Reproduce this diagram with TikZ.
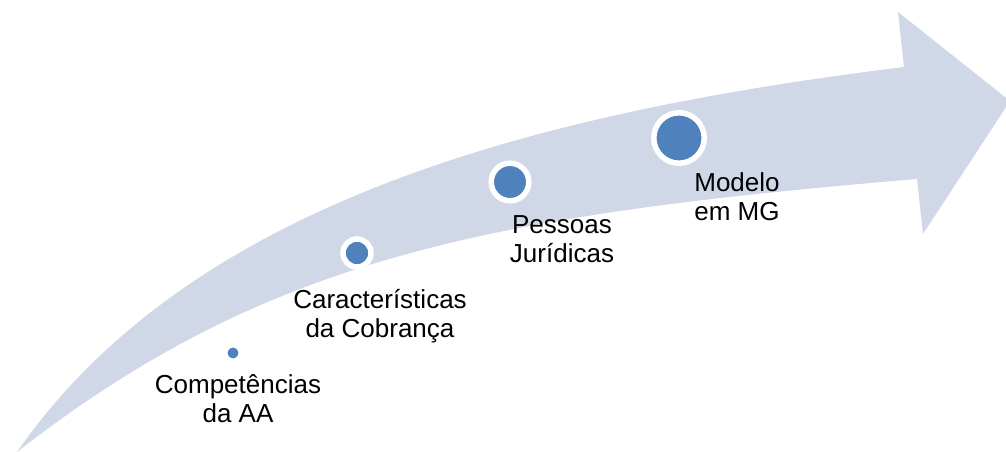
\documentclass[tikz,border=0pt]{standalone}
\usepackage{fontspec}
\setmainfont{Liberation Sans}
\usepackage{tikz}
\definecolor{arrowfill}{HTML}{D0D8E8}
\definecolor{stageblue}{HTML}{4F81BD}
\tikzset{
	stage/.style={circle, fill=stageblue, draw=white, line width=3.9pt, inner sep=0pt},
	stagetext/.style={align=center, inner sep=0pt, font=\fontsize{18.5}{20.6}\selectfont}
}

\begin{document}
\begin{tikzpicture}[x=0.025cm, y=-0.025cm]
		%%%%% START %%%%%
		\useasboundingbox (0, 0) rectangle (1006, 452);
		
		% curved arrow
		\fill[arrowfill] (17, 452) .. controls (192, 200) and (540, 112) .. (904, 67)
			-- (898, 12) -- (1010, 101) -- (923, 234) -- (917, 179)
			.. controls (489, 215) and (267, 257) .. (17, 452) -- cycle;
		
		% stages
		\node[stage, minimum size=0.41cm] (aa) at (233, 353) {};
		\node[stage, minimum size=0.70cm] (cobranca) at (357, 253) {};
		\node[stage, minimum size=0.94cm] (pj) at (510, 182) {};
		\node[stage, minimum size=1.26cm] (mg) at (679, 138) {};
		
		\node[stagetext] (aatext) at (238, 399) {Competências\\da AA};
		\node[stagetext] (cobrancatext) at (380, 316) {Características\\da Cobrança};
		\node[stagetext] (pjtext) at (562, 239) {Pessoas\\Jurídicas};
		\node[stagetext] (mgtext) at (737, 197) {Modelo\\em MG};
		
		%%%%% END %%%%%
	\end{tikzpicture}
\end{document}
